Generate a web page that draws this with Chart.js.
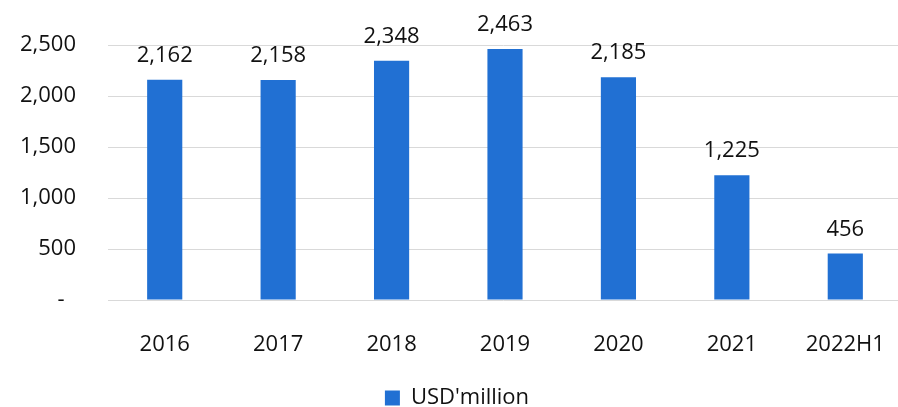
<!DOCTYPE html>
<html>
<head>
<meta charset="utf-8">
<script src="https://cdn.jsdelivr.net/npm/chart.js@4/dist/chart.umd.min.js"></script>
<style>
  html, body { margin: 0; padding: 0; background: #ffffff; overflow: hidden; }
  #wrap { width: 898px; height: 407px; position: relative; }
  canvas { display: block; }
</style>
</head>
<body>
<div id="wrap"><canvas id="c" width="898" height="407"></canvas></div>
<script>
// Annual values, USD million
const categories = ['2016', '2017', '2018', '2019', '2020', '2021', '2022H1'];
const values = [2162, 2158, 2348, 2463, 2185, 1225, 456];
const seriesName = "USD'million";
const yTicks = [0, 500, 1000, 1500, 2000, 2500];

const FONT = "'Open Sans', 'Noto Sans', sans-serif";
const INK = '#111111';
const BAR = '#2170D3';
const PLOT_RIGHT = 902; // plot area runs slightly past the canvas edge

// Value labels printed above each bar
const valueLabels = {
  id: 'valueLabels',
  afterDatasetsDraw(chart) {
    const ctx = chart.ctx;
    const meta = chart.getDatasetMeta(0);
    ctx.save();
    ctx.font = '22px ' + FONT;
    ctx.fillStyle = INK;
    ctx.textAlign = 'center';
    ctx.textBaseline = 'alphabetic';
    meta.data.forEach((bar, i) => {
      const v = chart.data.datasets[0].data[i];
      ctx.fillText(v.toLocaleString('en-US'), bar.x, bar.y - 18);
    });
    ctx.restore();
  }
};

// Widen the plot area to the right and position the legend
const layoutTweak = {
  id: 'layoutTweak',
  afterLayout(chart) {
    const area = chart.chartArea;
    area.right = PLOT_RIGHT;
    area.width = PLOT_RIGHT - area.left;
    const xs = chart.scales.x;
    xs.right = PLOT_RIGHT;
    xs.width = PLOT_RIGHT - xs.left;
    xs.configure();
    const lg = chart.legend;
    if (lg) {
      lg.left += 8; lg.right += 8;
      lg.top += 12; lg.bottom += 12;
    }
  }
};

new Chart(document.getElementById('c'), {
  type: 'bar',
  data: {
    labels: categories,
    datasets: [{
      label: seriesName,
      data: values,
      backgroundColor: BAR,
      borderWidth: 0,
      barPercentage: 0.31,
      categoryPercentage: 1.0
    }]
  },
  options: {
    responsive: false,
    maintainAspectRatio: false,
    animation: false,
    devicePixelRatio: 1,
    layout: { padding: { top: 43, right: 0, bottom: 0, left: 0 } },
    plugins: {
      legend: {
        position: 'bottom',
        labels: {
          font: { family: FONT, size: 22 },
          color: INK,
          boxWidth: 15,
          boxHeight: 15,
          padding: 2
        }
      },
      tooltip: { enabled: false }
    },
    scales: {
      x: {
        grid: { display: false, drawTicks: false },
        border: { display: false },
        ticks: {
          font: { family: FONT, size: 22 },
          color: INK,
          padding: 32,
          maxRotation: 0
        },
        afterFit(scale) { scale.height = 73; }
      },
      y: {
        min: 0,
        max: 2500,
        afterBuildTicks(scale) { scale.ticks = yTicks.map(v => ({ value: v })); },
        grid: { color: '#d9d9d9', lineWidth: 1, drawTicks: false },
        border: { display: false },
        ticks: {
          font: { family: FONT, size: 22 },
          color: INK,
          padding: 32,
          callback: (v) => v === 0 ? '-  ' : Number(v).toLocaleString('en-US')
        },
        afterFit(scale) { scale.width = 108; }
      }
    }
  },
  plugins: [valueLabels, layoutTweak]
});
</script>
</body>
</html>
